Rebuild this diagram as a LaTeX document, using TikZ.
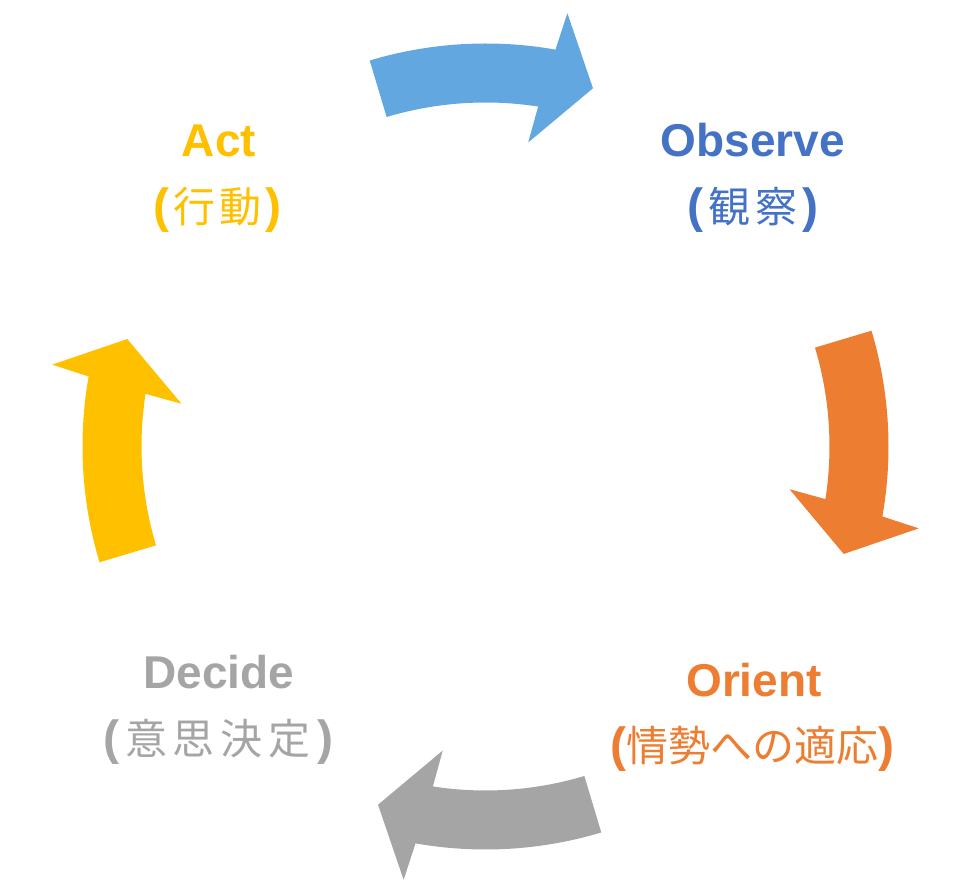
\documentclass[tikz,border=0pt]{standalone}
\usepackage{fontspec}
\setmainfont{Liberation Sans}
\newfontfamily\jpfont{Noto Sans CJK JP}
\definecolor{arrowblue}{RGB}{99,167,224}
\definecolor{obsblue}{RGB}{68,114,196}
\definecolor{orientorange}{RGB}{237,125,49}
\definecolor{decidegray}{RGB}{165,165,165}
\definecolor{actyellow}{RGB}{255,192,0}
\tikzset{
  titletext/.style={inner sep=0pt, anchor=base, font=\fontsize{46}{46}\selectfont\bfseries},
  subtext/.style={inner sep=0pt, anchor=base},
}
\newcommand{\opar}{{\fontsize{48}{48}\selectfont\bfseries(}}
\newcommand{\cpar}{{\fontsize{48}{48}\selectfont\bfseries)}}
\newcommand{\jptxt}[1]{{\jpfont\fontsize{42}{42}\selectfont #1}}
\begin{document}
\begin{tikzpicture}[x=1pt,y=1pt]
\useasboundingbox (0,0) rectangle (970,889);
\coordinate (C) at (485.5,442.5);
\begin{scope}[shift={(C)}]
\foreach \a/\c in {90/arrowblue, 0/orientorange, -90/decidegray, 180/actyellow}{
  \fill[\c] (\a+16.7:403pt) arc[start angle=\a+16.7, end angle=\a-10, radius=403pt]
    -- (\a-10.7:441pt) -- (\a-16.7:374pt) -- (\a-8:307pt) -- (\a-8.8:344pt)
    arc[start angle=\a-8.8, end angle=\a+16.7, radius=344pt] -- cycle;
}
\end{scope}
% Labels
\node[titletext, text=actyellow] (act) at (219,732.3) {Act};
\node[subtext, text=actyellow] (actjp) at (217.5,666) {\opar\kern4pt\jptxt{行}\kern4pt\jptxt{動}\kern4pt\cpar};
\node[titletext, text=obsblue] (obs) at (753,732.3) {Observe};
\node[subtext, text=obsblue] (obsjp) at (753,666) {\opar\kern5pt\jptxt{観}\kern5pt\jptxt{察}\kern5pt\cpar};
\node[titletext, text=orientorange] (ori) at (754,192.3) {Orient};
\node[subtext, text=orientorange] (orijp) at (752.5,127) {\opar\jptxt{情勢への適応}\cpar};
\node[titletext, text=decidegray] (dec) at (219,200.7) {Decide};
\node[subtext, text=decidegray] (decjp) at (218,134) {\opar\kern6pt\jptxt{意}\kern6pt\jptxt{思}\kern6pt\jptxt{決}\kern6pt\jptxt{定}\kern6pt\cpar};
\end{tikzpicture}
\end{document}
